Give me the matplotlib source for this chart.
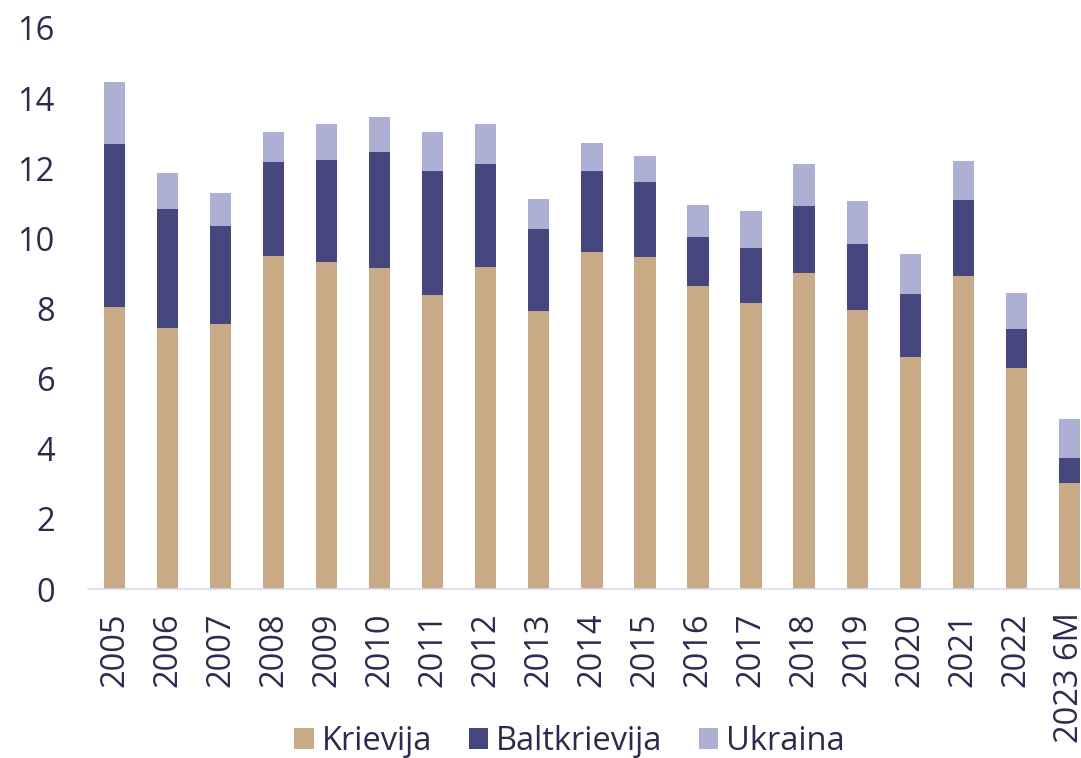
import matplotlib.pyplot as plt
import numpy as np

plt.rcParams['font.family'] = ['Open Sans', 'DejaVu Sans']

# values
years = ['2005', '2006', '2007', '2008', '2009', '2010', '2011', '2012', '2013',
         '2014', '2015', '2016', '2017', '2018', '2019', '2020', '2021', '2022', '2023 6M']
krievija = [8.04, 7.45, 7.56, 9.49, 9.32, 9.16, 8.39, 9.17, 7.93,
            9.62, 9.48, 8.65, 8.15, 9.00, 7.96, 6.63, 8.93, 6.30, 3.01]
baltkrievija = [4.65, 3.39, 2.79, 2.69, 2.92, 3.31, 3.54, 2.94, 2.35,
                2.29, 2.12, 1.40, 1.58, 1.92, 1.89, 1.78, 2.17, 1.12, 0.74]
ukraina = [1.78, 1.03, 0.95, 0.85, 1.03, 1.00, 1.10, 1.16, 0.83,
           0.80, 0.74, 0.89, 1.04, 1.19, 1.22, 1.14, 1.12, 1.03, 1.09]

c_kr = '#c9aa87'
c_bk = '#45477e'
c_uk = '#adb0d3'
txt = '#2b2a4f'

fig = plt.figure(figsize=(10.81, 7.58), dpi=100)
ax = fig.add_axes([88 / 1081, 169 / 758, (1081 - 88) / 1081, (589 - 28) / 758])

x = np.arange(len(years))
kr = np.array(krievija)
bk = np.array(baltkrievija)
uk = np.array(ukraina)
w = 0.4
ax.bar(x, kr, w, color=c_kr, label='Krievija')
ax.bar(x, bk, w, bottom=kr, color=c_bk, label='Baltkrievija')
ax.bar(x, uk, w, bottom=kr + bk, color=c_uk, label='Ukraina')

ax.set_xlim(-0.5, 18.22)
ax.set_ylim(0, 16)
ax.set_yticks(range(0, 17, 2))
ax.set_xticks(x)
ax.set_xticklabels(years, rotation=90)

for s in ['top', 'right', 'left']:
    ax.spines[s].set_visible(False)
ax.spines['bottom'].set_color('#d9daee')
ax.spines['bottom'].set_linewidth(1.2)

ax.tick_params(axis='y', length=0, pad=24, labelsize=23.5, labelcolor=txt)
ax.tick_params(axis='x', length=0, pad=17, labelsize=23.5, labelcolor=txt)

fig.legend(loc='center', bbox_to_anchor=(0.527, 0.022), ncol=3, frameon=False,
           fontsize=23.5, labelcolor=txt, handlelength=0.6, handleheight=0.6,
           handletextpad=0.25, columnspacing=1.1, borderaxespad=0)

fig.savefig('out.png', dpi=100)
